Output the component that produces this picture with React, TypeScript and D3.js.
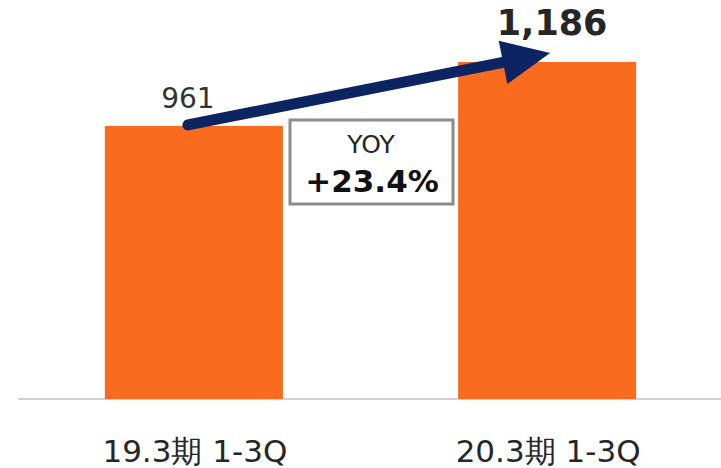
import * as d3 from 'd3';

const categories = ['19.3期 1-3Q', '20.3期 1-3Q'];
const values = [961, 1186];
const valueLabels = ['961', '1,186'];
const yoyLabel = 'YOY';
const yoyValue = '+23.4%';

const W = 721;
const H = 468;
const FONT = '"DejaVu Sans", Verdana, sans-serif';

const App = () => {
  const x = d3.scaleBand<string>().domain(categories).range([18, 723]).paddingInner(0.496).paddingOuter(0.246);
  const y = d3.scaleLinear().domain([0, 1186]).range([399, 62]);
  const bw = x.bandwidth();

  const c0 = (x(categories[0]) ?? 0) + bw / 2;
  const c1 = (x(categories[1]) ?? 0) + bw / 2;

  // arrow from first bar top towards second
  const sx = c0 - 6;
  const sy = y(values[0]) - 1;
  const ex = c1 + 3;
  const ey = y(values[1]) - 9;
  const ang = Math.atan2(ey - sy, ex - sx);
  const headLen = 48;
  const headHalf = 22;
  const bx = ex - headLen * Math.cos(ang);
  const by = ey - headLen * Math.sin(ang);
  const px = -Math.sin(ang);
  const py = Math.cos(ang);
  const head = [
    [ex, ey],
    [bx + px * headHalf, by + py * headHalf],
    [bx - px * headHalf, by - py * headHalf],
  ];

  return (
    <svg width={W} height={H} style={{ position: 'absolute', left: 0, top: 0 }}>
      <line x1={18} x2={721} y1={y(0)} y2={y(0)} stroke="#a6a6a6" strokeWidth={1.2} />
      {categories.map((c, i) => (
        <rect key={c} x={x(c)} y={y(values[i])} width={bw} height={y(0) - y(values[i])} fill="#f96b1e" />
      ))}
      {categories.map((c) => (
        <text key={c} x={(x(c) ?? 0) + bw / 2 + 1} y={462} textAnchor="middle" fontFamily={FONT} fontSize={31} fill="#262626">
          {c}
        </text>
      ))}
      <text x={c0 - 6} y={108} textAnchor="middle" fontFamily={FONT} fontSize={28} fill="#333">
        {valueLabels[0]}
      </text>
      <text x={c1 + 5} y={35} textAnchor="middle" fontFamily={FONT} fontSize={35} fontWeight="bold" fill="#262626">
        {valueLabels[1]}
      </text>
      <line x1={sx} y1={sy} x2={bx} y2={by} stroke="#0c2461" strokeWidth={11} strokeLinecap="round" />
      <polygon points={head.map((p) => p.join(',')).join(' ')} fill="#0c2461" />
      <rect x={290} y={120} width={163} height={84} fill="#fff" stroke="#8c8c8c" strokeWidth={3} />
      <text x={371} y={153} textAnchor="middle" fontFamily={FONT} fontSize={25} fill="#262626">
        {yoyLabel}
      </text>
      <text x={372} y={192} textAnchor="middle" fontFamily={FONT} fontSize={31} fontWeight="bold" fill="#111">
        {yoyValue}
      </text>
    </svg>
  );
};

export default App;
